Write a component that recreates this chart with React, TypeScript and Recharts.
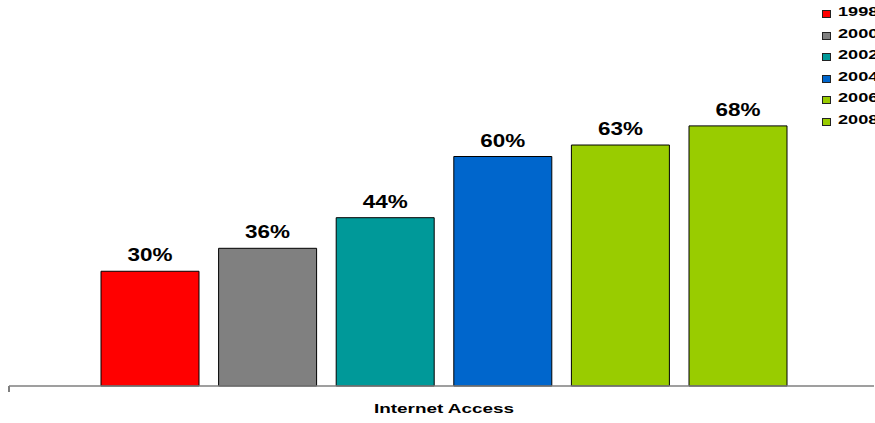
import { Bar, BarChart, Legend, XAxis, YAxis } from 'recharts';

const categories = ['Internet Access'];
const years = ['1998', '2000', '2002', '2004', '2006', '2008'];
const shares = [30, 36, 44, 60, 63, 68];

const colors = ['#FF0000', '#808080', '#009999', '#0066CC', '#99CC00', '#99CC00'];

const data = categories.map((name) => {
  const row: Record<string, string | number> = { name };
  years.forEach((y, i) => {
    row[y] = shares[i];
  });
  return row;
});

const FONT = 'Arial, "Liberation Sans", sans-serif';

function ValueLabel(props: any) {
  const { x, y, width, value } = props;
  return (
    <text
      x={x + width / 2}
      y={y - 10}
      textAnchor="middle"
      fontFamily={FONT}
      fontWeight="bold"
      fontSize={19}
      fill="#000"
      textLength={45}
      lengthAdjust="spacingAndGlyphs"
    >
      {value}%
    </text>
  );
}

function CategoryTick(props: any) {
  const { x, y, payload } = props;
  return (
    <text
      x={x}
      y={y + 27}
      textAnchor="middle"
      fontFamily={FONT}
      fontWeight="bold"
      fontSize={13}
      fill="#000"
      textLength={140}
      lengthAdjust="spacingAndGlyphs"
    >
      {payload.value}
    </text>
  );
}

function YearLegend(props: any) {
  const items = props.payload || [];
  return (
    <div style={{ fontFamily: FONT }}>
      {items.map((it: any) => (
        <div key={it.value} style={{ position: 'relative', height: 21.5 }}>
          <div
            style={{
              position: 'absolute',
              left: 0,
              top: 7,
              width: 7,
              height: 6,
              background: it.color,
              border: '1px solid #222',
            }}
          />
          <div
            style={{
              position: 'absolute',
              left: 16,
              top: 2,
              fontSize: 12.5,
              fontWeight: 'bold',
              lineHeight: '15px',
              whiteSpace: 'nowrap',
              transform: 'scaleX(1.45)',
              transformOrigin: 'left',
            }}
          >
            {it.value}
          </div>
        </div>
      ))}
    </div>
  );
}

export default function App() {
  return (
    <div
      style={{
        position: 'fixed',
        left: 0,
        top: 0,
        width: 875,
        height: 423,
        overflow: 'hidden',
        background: '#fff',
      }}
    >
      <BarChart
        width={875}
        height={423}
        data={data}
        margin={{ top: 80, right: 1, bottom: 7, left: 9 }}
        barSize={98}
        barGap={19.6}
      >
        <XAxis
          dataKey="name"
          height={30}
          padding={{ left: 5, right: 0 }}
          axisLine={{ stroke: '#7f7f7f', strokeWidth: 1.5 }}
          tickLine={false}
          tickSize={0}
          tickMargin={0}
          tick={<CategoryTick />}
        />
        <YAxis hide domain={[0, 80]} />
        <Legend
          layout="vertical"
          align="center"
          verticalAlign="middle"
          content={<YearLegend />}
          wrapperStyle={{ left: 822, top: 3, width: 60, height: 135, overflow: 'hidden' }}
        />
        {years.map((y, i) => (
          <Bar
            key={y}
            dataKey={y}
            name={y}
            fill={colors[i]}
            stroke="#000"
            strokeWidth={1}
            isAnimationActive={false}
            label={<ValueLabel />}
          />
        ))}
      </BarChart>
      <div
        style={{
          position: 'absolute',
          left: 8,
          top: 386,
          width: 1.5,
          height: 6,
          background: '#7f7f7f',
        }}
      />
    </div>
  );
}
